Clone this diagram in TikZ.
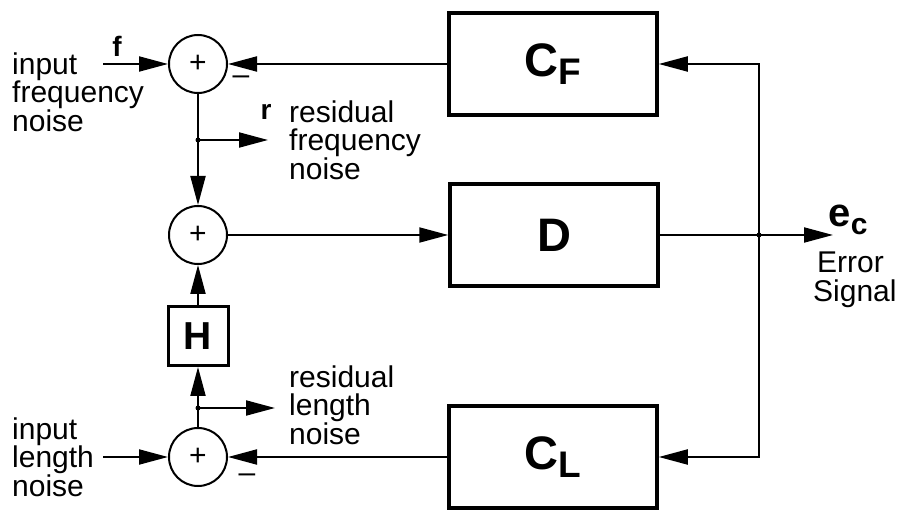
\documentclass[tikz,border=0pt]{standalone}
\usepackage{fontspec}
\setmainfont{Liberation Sans}
\usetikzlibrary{arrows.meta, positioning}

\begin{document}
\begin{tikzpicture}[
    x=1pt, y=1pt,
    sumnode/.style={
        draw,
        circle,
        line width=2pt,
        minimum size=58pt,
        inner sep=0pt,
        font=\fontsize{30}{30}\selectfont
    },
    blockbox/.style={
        draw,
        line width=3.5pt,
        minimum width=208pt,
        minimum height=102pt,
        inner sep=0pt,
        font=\fontsize{47}{47}\selectfont\bfseries
    },
    gainbox/.style={
        draw,
        line width=3pt,
        minimum width=60pt,
        minimum height=59pt,
        inner sep=0pt,
        font=\fontsize{39}{39}\selectfont\bfseries
    },
    signal/.style={
        -{Triangle[length=29pt, width=15pt]},
        line width=2pt
    },
    labeltext/.style={
        align=left,
        inner sep=0pt,
        font=\fontsize{30}{28.5}\selectfont
    },
    varname/.style={
        inner sep=0pt,
        font=\fontsize{28}{28}\selectfont\bfseries
    },
    tapdot/.style={
        circle,
        fill,
        inner sep=0pt,
        minimum size=5pt
    }
]
    \useasboundingbox (0,0) rectangle (903,512);

    % summing junctions and blocks
    \node[sumnode] (sum1) at (198,448) {+};
    \node[sumnode] (sum2) at (198,277) {+};
    \node[sumnode] (sum3) at (198,55) {+};
    \node[gainbox] (h) at (198,176) {H};

    \node[blockbox] (cf) at (553,448) {C\raisebox{-8pt}{\fontsize{37}{37}\selectfont F}};
    \node[blockbox] (d) at (554,277) {D};
    \node[blockbox] (cl) at (553,55) {C\raisebox{-8pt}{\fontsize{37}{37}\selectfont L}};

    \node[tapdot] (rdot) at (198,372) {};
    \node[tapdot] (ldot) at (198,104) {};
    \node[tapdot] (edot) at (759,277) {};

    \coordinate (fin) at (103,448);
    \coordinate (lin) at (103,55);
    \coordinate (rout) at (268,372);
    \coordinate (lout) at (275,104);
    \coordinate (ecout) at (833,277);

    % forward paths
    \draw[signal] (fin) -- (sum1);
    \draw[signal] (sum1) -- (sum2);
    \draw[signal] (rdot.center) -- (rout);
    \draw[signal] (sum2) -- (d);
    \draw[signal] (lin) -- (sum3);
    \draw[signal] (sum3) -- (h);
    \draw[signal] (h) -- (sum2);
    \draw[signal] (ldot.center) -- (lout);
    \draw[signal] (d) -- (ecout);

    % feedback
    \draw[signal] (edot.center) |- (cf.east);
    \draw[signal] (edot.center) |- (cl.east);
    \draw[signal] (cf) -- (sum1);
    \draw[signal] (cl) -- (sum3);

    % labels
    \node[labeltext, anchor=west] (finLabel) at (12,420) {input\\frequency\\noise};
    \node[varname] (fLabel) at (117,466) {f};
    \node[labeltext] (fMinus) at (241,432) {–};
    \node[varname] (rLabel) at (266,400) {r};
    \node[labeltext, anchor=west] (rLabelText) at (289,372) {residual\\frequency\\noise};
    \node[labeltext, anchor=west] (linLabel) at (12,55) {input\\length\\noise};
    \node[labeltext] (lMinus) at (247,34) {–};
    \node[labeltext, anchor=west] (lLabelText) at (289,107) {residual\\length\\noise};
    \node[inner sep=0pt, font=\fontsize{40}{40}\selectfont\bfseries] (ecLabel) at (848,292)
        {e\raisebox{-8pt}{\fontsize{30}{30}\selectfont c}};
    \node[labeltext, anchor=west] (errLabel) at (813,232) {\hspace{4pt}Error\\Signal};
\end{tikzpicture}
\end{document}
